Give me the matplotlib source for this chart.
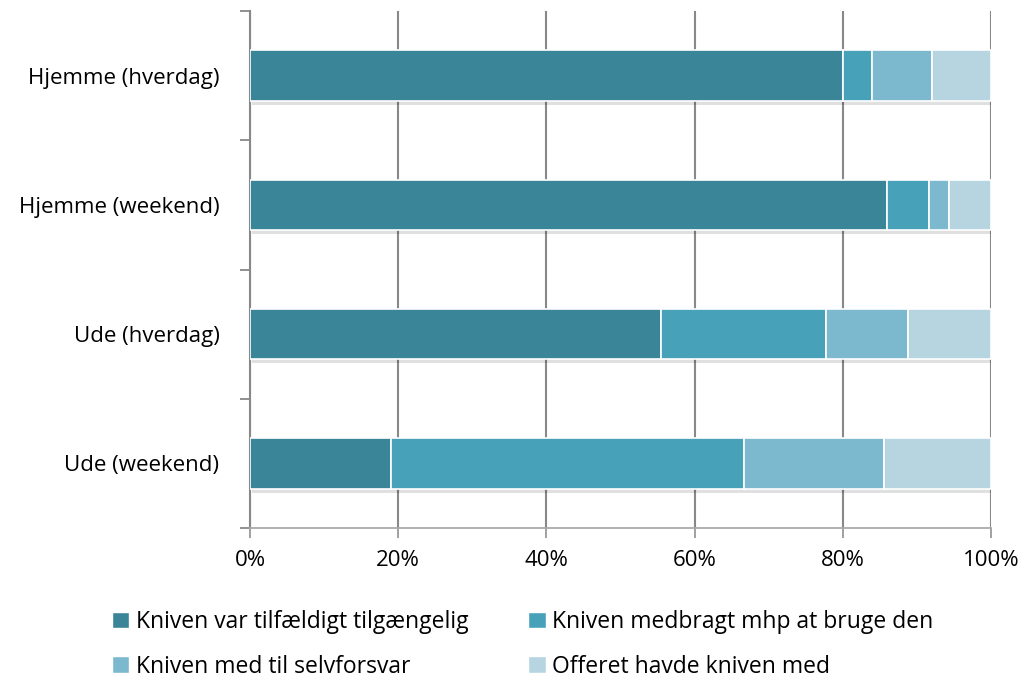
import numpy as np
import matplotlib.pyplot as plt
import matplotlib.patheffects as pe
from matplotlib.patches import Patch

# data (percent of cases)
categories = ['Hjemme (hverdag)', 'Hjemme (weekend)', 'Ude (hverdag)', 'Ude (weekend)']
tilfaeldig = [80.0, 86.0, 55.5, 19.0]
medbragt = [4.0, 5.6, 22.2, 47.6]
selvforsvar = [8.0, 2.7, 11.1, 19.0]
offeret = [8.0, 5.7, 11.2, 14.4]

series_names = ['Kniven var tilfældigt tilgængelig', 'Kniven medbragt mhp at bruge den',
                'Kniven med til selvforsvar', 'Offeret havde kniven med']
colors = ['#3A8597', '#47A1B8', '#7DB9CE', '#B6D5E0']
x_ticks = [0, 20, 40, 60, 80, 100]

plt.rcParams['font.family'] = ['Open Sans', 'DejaVu Sans']

fig = plt.figure(figsize=(10.22, 6.79), dpi=100)
ax = fig.add_axes([250 / 1022, 1 - 528 / 679, 741 / 1022, 517 / 679])

y = np.arange(len(categories))
left = np.zeros(len(categories))
shadow = [pe.SimplePatchShadow(offset=(1.5, -3), shadow_rgbFace='#000000', alpha=0.12), pe.Normal()]
for vals, col in zip([tilfaeldig, medbragt, selvforsvar, offeret], colors):
    bars = ax.barh(y, vals, left=left, height=0.39, color=col, edgecolor='white',
                   linewidth=1.2, zorder=3)
    for b in bars:
        b.set_path_effects(shadow)
    left += np.array(vals)

ax.set_xlim(0, 100)
ax.set_ylim(len(categories) - 0.5, -0.5)
ax.set_xticks(x_ticks)
ax.set_xticklabels([f'{t}%' for t in x_ticks], fontsize=16)
ax.set_yticks(y)
ax.set_yticklabels(categories, fontsize=16)
ax.tick_params(axis='y', length=0, pad=22)
ax.set_yticks(np.arange(-0.5, len(categories), 1), minor=True)
ax.tick_params(axis='y', which='minor', length=7, color='#888888', width=1.3)
ax.tick_params(axis='x', length=7, color='#999999', width=1.3, pad=9)

ax.grid(axis='x', color='#888888', linewidth=1.5, zorder=0)
for s in ['top', 'right']:
    ax.spines[s].set_visible(False)
ax.spines['left'].set_color('#888888')
ax.spines['left'].set_linewidth(1.5)
ax.spines['bottom'].set_color('#aaaaaa')
ax.spines['bottom'].set_linewidth(1.3)

# legend filled row by row
handles = [Patch(facecolor=c, edgecolor='white', label=n) for c, n in zip(colors, series_names)]
order = [0, 2, 1, 3]
fig.legend([handles[i] for i in order], [series_names[i] for i in order],
           loc='upper left', bbox_to_anchor=(96 / 1022, 1 - 594 / 679), ncol=2,
           frameon=False, fontsize=16.5, handlelength=0.75, handleheight=0.75,
           handletextpad=0.3, columnspacing=2.6, labelspacing=0.9, borderpad=0.2)

fig.savefig('out.png', dpi=100)
